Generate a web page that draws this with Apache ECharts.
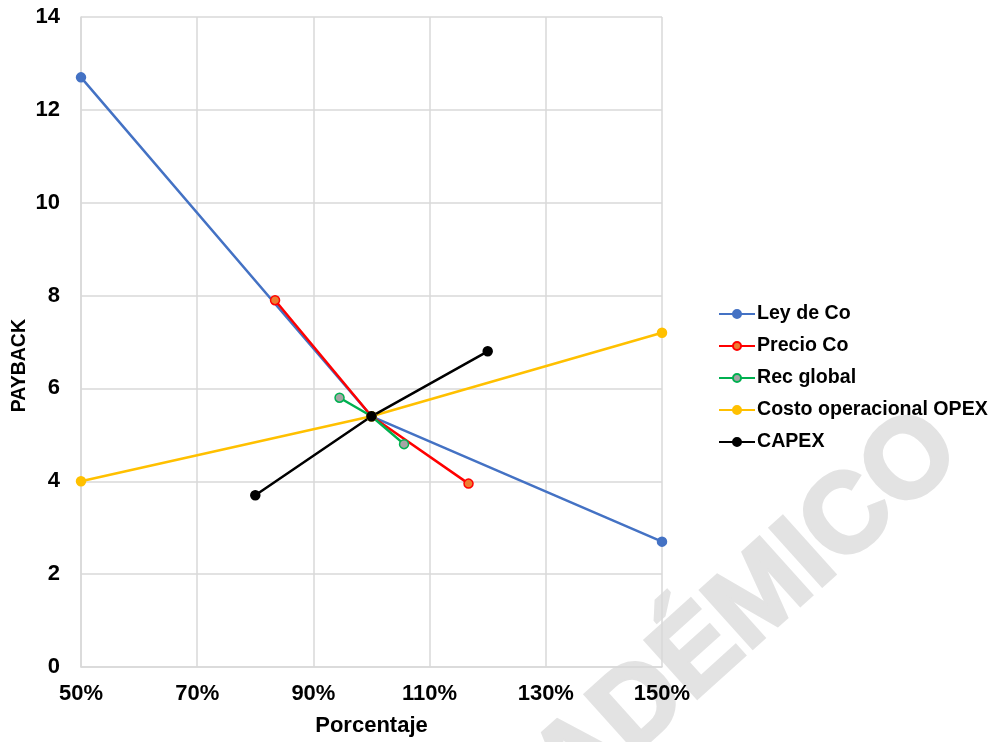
<!DOCTYPE html>
<html>
<head>
<meta charset="utf-8">
<script src="https://cdn.jsdelivr.net/npm/echarts@6/dist/echarts.min.js"></script>
<style>
    html, body { margin: 0; padding: 0; background: #fff; }
    #chart { width: 995px; height: 742px; }
</style>
</head>
<body>
<div id="chart"></div>
<script>
//---------------------------Data---------------------------
let xTicks = [50, 70, 90, 110, 130, 150];

let leyX = [50, 100, 150];
let leyY = [12.7, 5.4, 2.7];

let precioX = [83.4, 100, 116.7];
let precioY = [7.9, 5.4, 3.95];

let recX = [94.5, 100, 105.6];
let recY = [5.8, 5.4, 4.8];

let opexX = [50, 100, 150];
let opexY = [4.0, 5.4, 7.2];

let capexX = [80, 100, 120];
let capexY = [3.7, 5.4, 6.8];

//---------------------------Function---------------------------
function pairs(xs, ys) {
    let out = [];
    for (let i = 0; i < xs.length; i++) {
        out.push([xs[i], ys[i]]);
    }
    return out;
}

function makeLine(name, xs, ys, color, fill) {
    return {
        name: name,
        type: 'line',
        data: pairs(xs, ys),
        symbol: 'circle',
        symbolSize: 9,
        lineStyle: { color: color, width: 2.5 },
        itemStyle: { color: fill, borderColor: color, borderWidth: 1.5 },
        emphasis: { disabled: true },
        animation: false
    };
}

//---------------------------Chart---------------------------
let chart = echarts.init(document.getElementById('chart'));

let font = 'Liberation Sans, Arial, sans-serif';

let option = {
    backgroundColor: '#fff',
    grid: { left: 81, right: 333, top: 17, bottom: 75 },
    xAxis: {
        type: 'value',
        min: 50,
        max: 150,
        interval: 20,
        name: 'Porcentaje',
        nameLocation: 'middle',
        nameGap: 48,
        nameTextStyle: { color: '#000', fontWeight: 'bold', fontSize: 22, fontFamily: font },
        axisLine: { show: true, lineStyle: { color: '#d9d9d9', width: 1.5 } },
        axisTick: { show: false },
        axisLabel: {
            color: '#000', fontWeight: 'bold', fontSize: 22, fontFamily: font, margin: 16,
            formatter: '{value}%'
        },
        splitLine: { show: true, lineStyle: { color: '#d9d9d9', width: 1.5 } }
    },
    yAxis: {
        type: 'value',
        min: 0,
        max: 14,
        interval: 2,
        axisLine: { show: true, lineStyle: { color: '#d9d9d9', width: 1.5 } },
        axisTick: { show: false },
        axisLabel: { color: '#000', fontWeight: 'bold', fontSize: 22, fontFamily: font, margin: 21 },
        splitLine: { show: true, lineStyle: { color: '#d9d9d9', width: 1.5 } }
    },
    legend: {
        orient: 'vertical',
        left: 713,
        top: 299,
        itemWidth: 36,
        itemHeight: 10,
        itemGap: 12,
        textStyle: { color: '#000', fontWeight: 'bold', fontSize: 19.6, fontFamily: font, padding: [0, 0, 0, -3] },
        data: ['Ley de Co', 'Precio Co', 'Rec global', 'Costo operacional OPEX', 'CAPEX']
    },
    graphic: [
        {
            type: 'text',
            left: 10,
            top: 319,
            rotation: Math.PI / 2,
            style: { text: 'PAYBACK', fill: '#000', font: 'bold 19.5px ' + font }
        },
        {
            type: 'text',
            x: 944,
            y: 434,
            rotation: 42 * Math.PI / 180,
            z: -10,
            silent: true,
            style: {
                text: 'ACADÉMICO',
                fill: '#e3e3e3',
                stroke: '#e3e3e3',
                lineWidth: 4,
                font: 'bold 112px ' + font,
                textAlign: 'right',
                textVerticalAlign: 'middle'
            }
        }
    ],
    series: [
        makeLine('Ley de Co', leyX, leyY, '#4472C4', '#4472C4'),
        makeLine('Precio Co', precioX, precioY, '#FF0000', '#ED7D31'),
        makeLine('Rec global', recX, recY, '#00B050', '#A5A5A5'),
        makeLine('Costo operacional OPEX', opexX, opexY, '#FFC000', '#FFC000'),
        makeLine('CAPEX', capexX, capexY, '#000000', '#000000')
    ]
};

chart.setOption(option);
</script>
</body>
</html>
